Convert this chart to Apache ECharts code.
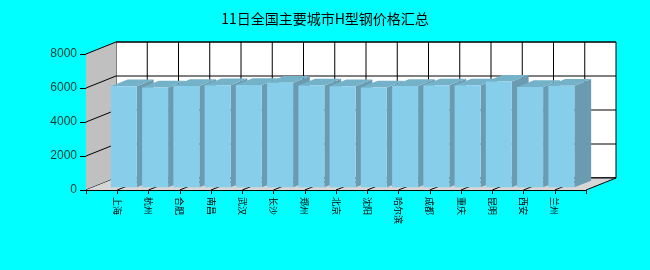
<!DOCTYPE html>
<html>
<head>
<meta charset="utf-8">
<script src="https://cdn.jsdelivr.net/npm/echarts@6/dist/echarts.min.js"></script>
<style>html,body{margin:0;padding:0;background:#00ffff;}#c{width:650px;height:270px;}</style>
</head>
<body>
<div id="c"></div>
<script>
var titleText = '11日全国主要城市H型钢价格汇总';
var cities = ['上海','杭州','合肥','南昌','武汉','长沙','郑州','北京','沈阳','哈尔滨','成都','重庆','昆明','西安','兰州'];
var prices = [5950, 5880, 5960, 6010, 6020, 6150, 5990, 5950, 5880, 5960, 6000, 6000, 6220, 5900, 5980];
var yTicks = [0, 2000, 4000, 6000, 8000];

var DX = 30, DY = -12;          // depth offset of the back plane
var F0 = 0.22, F1 = 0.78;       // bar depth range (fraction of full depth)
var BAR_HALF = 13;

var chart = echarts.init(document.getElementById('c'));

function pt(api, x, y, f) {
  var c = api.coord([x, y]);
  return [c[0] + f * DX, c[1] + f * DY];
}

var xMax = cities.length + 1;
var yMax = yTicks[yTicks.length - 1];

function decor(params, api) {
  var ch = [];
  var line = function (a, b) {
    ch.push({type: 'line', shape: {x1: a[0], y1: a[1], x2: b[0], y2: b[1]},
      style: {stroke: '#000', lineWidth: 1}});
  };
  var b00 = pt(api, 0, 0, 1), b10 = pt(api, xMax, 0, 1), b11 = pt(api, xMax, yMax, 1), b01 = pt(api, 0, yMax, 1);
  ch.push({type: 'polygon', shape: {points: [b00, b10, b11, b01]}, style: {fill: '#fff', stroke: '#000', lineWidth: 1}});
  yTicks.forEach(function (t) { line(pt(api, 0, t, 1), pt(api, xMax, t, 1)); });
  for (var i = 1; i < xMax; i++) line(pt(api, i, 0, 1), pt(api, i, yMax, 1));
  var f00 = pt(api, 0, 0, 0), f01 = pt(api, 0, yMax, 0);
  ch.push({type: 'polygon', shape: {points: [f00, b00, b01, f01]}, style: {fill: '#c0c0c0', stroke: null}});
  yTicks.forEach(function (t) { line(pt(api, 0, t, 0), pt(api, 0, t, 1)); });
  var f10 = pt(api, xMax, 0, 0);
  ch.push({type: 'polygon', shape: {points: [f00, f10, b10, b00]}, style: {fill: '#d6d6d6', stroke: null}});
  line(f10, b10);
  line(b00, b10);
  for (var j = 1; j < xMax; j++) line(pt(api, j, 0, 0), pt(api, j, 0, 1));
  // category labels, rotated to read top-to-bottom
  cities.forEach(function (name, k) {
    var p = pt(api, k + 1, 0, 0);
    ch.push({type: 'text', x: p[0], y: p[1] + 7, rotation: -Math.PI / 2,
      style: {text: name, fontSize: 9, fontFamily: 'Noto Sans CJK SC', fill: '#000',
        align: 'left', verticalAlign: 'middle'}});
  });
  return {type: 'group', children: ch};
}

function bar3d(params, api) {
  var x = api.value(0), v = api.value(1);
  var t0 = pt(api, x, v, F0), z0 = pt(api, x, 0, F0);
  var t1 = pt(api, x, v, F1), z1 = pt(api, x, 0, F1);
  var L = -BAR_HALF, R = BAR_HALF;
  var ftl = [t0[0] + L, t0[1]], ftr = [t0[0] + R, t0[1]];
  var fbl = [z0[0] + L, z0[1]], fbr = [z0[0] + R, z0[1]];
  var btl = [t1[0] + L, t1[1]], btr = [t1[0] + R, t1[1]];
  var bbr = [z1[0] + R, z1[1]];
  return {type: 'group', children: [
    {type: 'polygon', shape: {points: [ftr, fbr, bbr, btr]}, style: {fill: '#6a9bb1'}},
    {type: 'polygon', shape: {points: [ftl, ftr, btr, btl]}, style: {fill: '#74b2ca'}},
    {type: 'polygon', shape: {points: [ftl, ftr, fbr, fbl]}, style: {fill: '#87ceeb'}}
  ]};
}

var barData = prices.map(function (v, i) { return [i + 1, v]; });

chart.setOption({
  backgroundColor: '#00ffff',
  animation: false,
  title: {
    text: titleText, left: 'center', top: 7,
    textStyle: {fontFamily: 'Noto Sans CJK SC', fontSize: 14, fontWeight: 'normal', color: '#000'}
  },
  grid: {left: 86, top: 54, width: 500, height: 136, containLabel: false},
  xAxis: {
    type: 'value', min: 0, max: xMax, interval: 1,
    axisLine: {show: true, lineStyle: {color: '#000', width: 1}},
    axisTick: {show: true, length: 4, lineStyle: {color: '#000'}},
    splitLine: {show: false},
    axisLabel: {show: false}
  },
  yAxis: {
    type: 'value', min: 0, max: yMax, interval: 2000,
    axisLine: {show: true, lineStyle: {color: '#000', width: 1}},
    axisTick: {show: true, length: 6, lineStyle: {color: '#000'}},
    splitLine: {show: false},
    axisLabel: {margin: 9, fontSize: 12, color: '#0b3d32', fontFamily: 'Liberation Sans',
      formatter: function (v) { return String(v); }}
  },
  series: [
    {type: 'custom', renderItem: decor, data: [[0, 0]], z: 1, silent: true, clip: false},
    {type: 'custom', renderItem: bar3d, data: barData, z: 2, clip: false}
  ]
});
</script>
</body>
</html>
